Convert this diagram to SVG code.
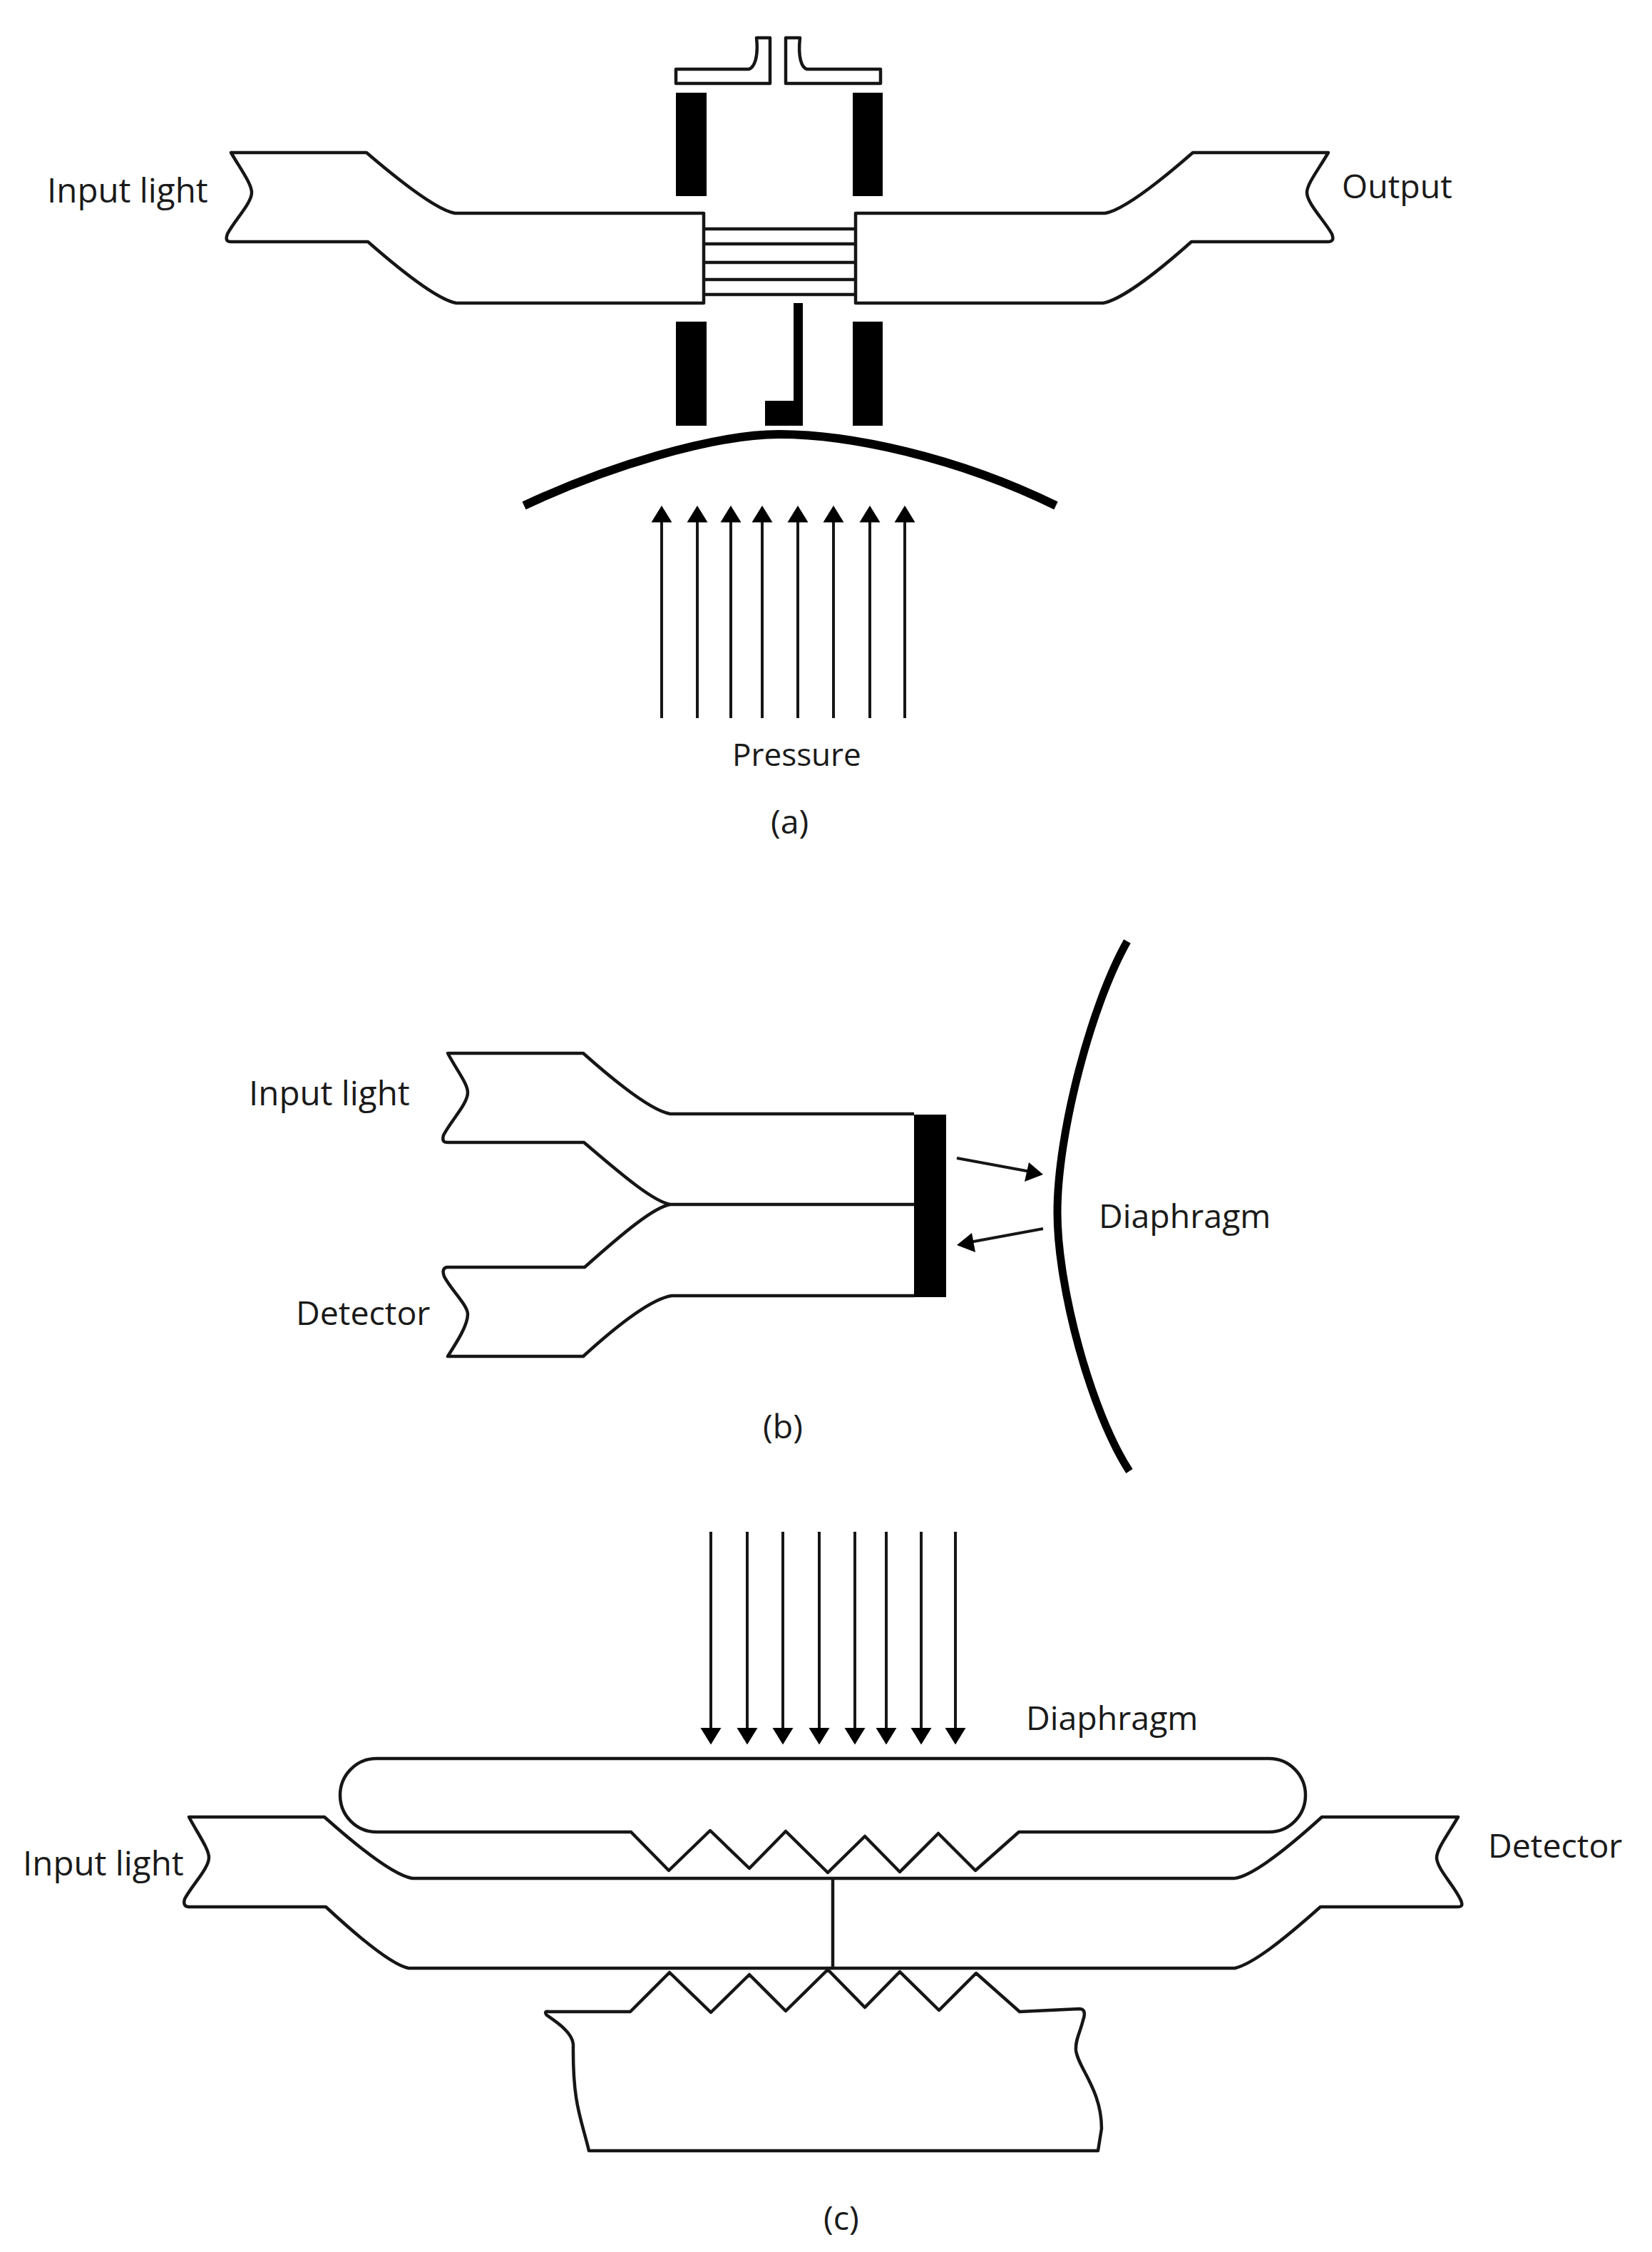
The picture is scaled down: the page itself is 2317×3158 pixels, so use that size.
<svg xmlns="http://www.w3.org/2000/svg" width="2317" height="3158" viewBox="0 0 2317 3158">
<defs>
<style>
.l{fill:none;stroke:#161616;stroke-width:4.5;stroke-linejoin:round}
.t{fill:none;stroke:#000;stroke-width:12}
.b{fill:#000}
.a{fill:none;stroke:#161616;stroke-width:4}
text{font-family:"Open Sans","Noto Sans","Liberation Sans",sans-serif;font-size:46.5px;fill:#1a1a1a}
.i{font-size:47.5px}
</style>
<marker id="up" markerUnits="userSpaceOnUse" markerWidth="30" markerHeight="24" refX="15" refY="13" orient="0" viewBox="0 0 30 24"><path d="M15,0 L29.5,23.5 H0.5 Z" fill="#000"/></marker>
<marker id="down" markerUnits="userSpaceOnUse" markerWidth="30" markerHeight="24" refX="15" refY="10" orient="0" viewBox="0 0 30 24"><path d="M15,23.5 L29.5,0 H0.5 Z" fill="#000"/></marker>
</defs>
<rect width="2317" height="3158" fill="#fff"/>
<g id="fig-a">
<g id="a-inlet">
<path class="l" d="M948,97 H1050 C1058,95 1064,80 1061,53 H1080 V117 H948 Z"/>
<path class="l" d="M1235,97 H1132 C1124,95 1119,80 1122,53 H1102 V117 H1235 Z"/>
</g>
<g id="a-blocks">
<rect class="b" x="948" y="130" width="43" height="145"/>
<rect class="b" x="1196" y="130" width="42" height="145"/>
<rect class="b" x="948" y="451" width="43" height="146"/>
<rect class="b" x="1196" y="451" width="42" height="146"/>
<path class="b" d="M1113,425 H1126 V597 H1073 V562 H1113 Z"/>
</g>
<g id="a-fibre-left"><path class="l" d="M987,299 H638 C615,295 570,262 514,214 H324 C338,238 353,258 353,270 C353,285 328,310 319,328 C316,336 318,339 324,339 H516 C572,388 617,421 640,425 H987 Z"/></g>
<g id="a-fibre-right"><path class="l" d="M1200,299 H1550 C1573,295 1618,262 1673,214 H1863 C1849,238 1833,258 1833,270 C1833,285 1858,310 1868,328 C1871,336 1869,339 1862,339 H1671 C1616,388 1570,421 1547,425 H1200 Z"/></g>
<g id="a-gap"><path class="l" d="M987,321 H1200 M987,342 H1200 M987,368 H1200 M987,392 H1200 M987,413 H1200"/></g>
<path id="a-diaphragm" class="t" d="M735,709 C850,655 1000,609 1093,609 C1190,609 1340,640 1481,709"/>
<text id="a-input" class="i" x="66" y="284">Input light</text>
<text id="a-output" x="1882" y="278">Output</text>
<text id="a-pressure" x="1027" y="1074" style="font-size:44px">Pressure</text>
<text id="a-cap" x="1081" y="1169">(a)</text>
</g>
<g id="fig-b">
<g id="b-fibre"><path class="l" d="M1282,1562 H940 C917,1558 872,1525 818,1477 H628 C642,1503 656,1520 656,1532 C656,1548 632,1572 622,1592 C620,1600 622,1602 628,1602 H819 C875,1650 917,1685 940,1689 H1282 M940,1689 C917,1693 875,1728 820,1777 H628 C622,1777 620,1782 623,1790 C632,1808 656,1830 656,1843 C656,1858 642,1880 628,1902 H818 C875,1850 917,1821 942,1817 H1282"/></g>
<rect id="b-bar" class="b" x="1282" y="1563" width="45" height="256"/>
<path id="b-diaphragm" class="t" style="stroke-width:11" d="M1581,1320 C1530,1410 1483,1590 1483,1700 C1483,1805 1530,1980 1584,2063"/>
<text id="b-input" class="i" x="349" y="1550">Input light</text>
<text id="b-detector" x="415" y="1858">Detector</text>
<text id="b-dia" x="1541" y="1722">Diaphragm</text>
<text id="b-cap" x="1070" y="2017">(b)</text>
</g>
<g id="fig-c">
<path id="c-pill" class="l" d="M528,2466 H1780 A51,51.5 0 0 1 1780,2569 H1429 L1368,2623 L1316,2571 L1262,2625 L1213,2575 L1161,2626 L1102,2568 L1051,2620 L996,2567 L938,2623 L885,2569 H528 A51,51.5 0 0 1 528,2466 Z"/>
<g id="c-fibre"><path class="l" d="M1732,2634 H578 C555,2630 510,2597 455,2548 H265 C279,2574 293,2593 293,2605 C293,2620 268,2645 259,2663 C257,2670 259,2674 265,2674 H457 C512,2725 552,2756 573,2760 H1732 C1757,2754 1798,2722 1852,2674 H2044 C2050,2674 2052,2672 2049,2665 C2040,2645 2015,2620 2015,2605 C2015,2593 2031,2572 2045,2548 H1854 C1800,2597 1757,2630 1732,2634"/></g>
<path id="c-post" class="l" d="M1168,2634 V2760"/>
<path id="c-base" class="l" d="M884,2821 L939,2766 L997,2822 L1051,2769 L1102,2820 L1161,2762 L1213,2815 L1262,2765 L1317,2819 L1369,2767 L1430,2821 L1514,2817 C1522,2817 1522,2825 1519,2833 C1515,2850 1508,2860 1509,2875 C1512,2900 1545,2930 1545,2985 L1540,3016 H826 C815,2970 803,2950 804,2867 C803,2850 780,2835 767,2826 C763,2821 766,2820 770,2821 Z"/>
<text id="c-input" class="i" x="32" y="2630">Input light</text>
<text id="c-detector" x="2087" y="2605">Detector</text>
<text id="c-dia" x="1439" y="2426">Diaphragm</text>
<text id="c-cap" x="1155" y="3127">(c)</text>
</g>
<g id="connectors">
<g id="a-arrows">
<path class="a" marker-end="url(#up)" d="M928,1007 V722"/><path class="a" marker-end="url(#up)" d="M978,1007 V722"/><path class="a" marker-end="url(#up)" d="M1025,1007 V722"/><path class="a" marker-end="url(#up)" d="M1069,1007 V722"/><path class="a" marker-end="url(#up)" d="M1119,1007 V722"/><path class="a" marker-end="url(#up)" d="M1169,1007 V722"/><path class="a" marker-end="url(#up)" d="M1220,1007 V722"/><path class="a" marker-end="url(#up)" d="M1269,1007 V722"/>
</g>
<g id="b-arrows">
<path class="a" d="M1342,1624 L1445,1643"/><path class="b" d="M1463,1647 L1443,1630 L1437,1657 Z"/>
<path class="a" d="M1463,1723 L1360,1742"/><path class="b" d="M1342,1746 L1363,1729 L1368,1756 Z"/>
</g>
<g id="c-arrows">
<path class="a" marker-end="url(#down)" d="M997,2148 V2433"/><path class="a" marker-end="url(#down)" d="M1048,2148 V2433"/><path class="a" marker-end="url(#down)" d="M1098,2148 V2433"/><path class="a" marker-end="url(#down)" d="M1149,2148 V2433"/><path class="a" marker-end="url(#down)" d="M1199,2148 V2433"/><path class="a" marker-end="url(#down)" d="M1243,2148 V2433"/><path class="a" marker-end="url(#down)" d="M1292,2148 V2433"/><path class="a" marker-end="url(#down)" d="M1340,2148 V2433"/>
</g>
</g>
</svg>
